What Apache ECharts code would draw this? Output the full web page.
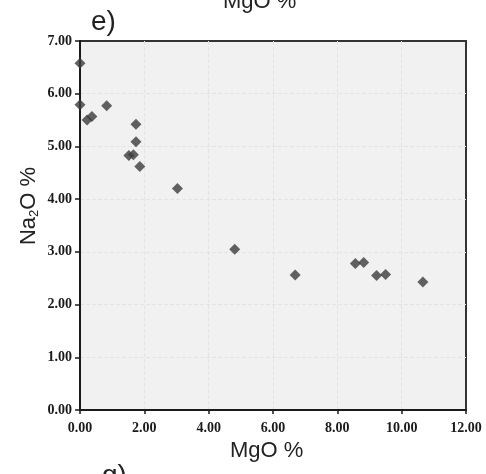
<!DOCTYPE html>
<html>
<head>
<meta charset="utf-8">
<script src="https://cdn.jsdelivr.net/npm/echarts@6/dist/echarts.min.js"></script>
<style>
  html, body { margin: 0; padding: 0; background: #fff; }
  #chart { width: 486px; height: 474px; }
</style>
</head>
<body>
<div id="chart"></div>
<script>
// MgO % vs Na2O % (panel e)
const mgo = [0.00, 0.00, 0.22, 0.37, 0.83, 1.74, 1.74, 1.52, 1.66, 1.86, 3.03, 4.81, 6.69, 8.56, 8.82, 9.22, 9.50, 10.66];
const na2o = [6.58, 5.79, 5.50, 5.57, 5.77, 5.42, 5.09, 4.83, 4.84, 4.62, 4.20, 3.05, 2.56, 2.78, 2.80, 2.55, 2.57, 2.43];

const xTicks = [0, 2, 4, 6, 8, 10, 12];
const yTicks = [0, 1, 2, 3, 4, 5, 6, 7];

const points = mgo.map((x, i) => [x, na2o[i]]);

const chart = echarts.init(document.getElementById("chart"));

const tickFont = {
  fontFamily: "Liberation Serif",
  fontWeight: "bold",
  fontSize: 14,
  color: "#1a1a1a",
};

const gridLines = {
  show: true,
  showMinLine: false,
  showMaxLine: false,
  lineStyle: { color: "#e3e3e3", type: "dashed", width: 1 },
};

chart.setOption({
  animation: false,
  grid: {
    left: 80,
    right: 20,
    top: 41,
    bottom: 64,
    show: true,
    backgroundColor: "#f1f1f1",
    borderColor: "#333",
    borderWidth: 2,
  },
  xAxis: {
    type: "value",
    min: xTicks[0],
    max: xTicks[xTicks.length - 1],
    interval: 2,
    axisLine: { show: true, onZero: false, lineStyle: { color: "#1a1a1a", width: 2 } },
    axisTick: { show: true, length: 4, lineStyle: { color: "#1a1a1a", width: 1.5 } },
    axisLabel: { ...tickFont, margin: 11, formatter: (v) => v.toFixed(2) },
    splitLine: gridLines,
  },
  yAxis: {
    type: "value",
    min: yTicks[0],
    max: yTicks[yTicks.length - 1],
    interval: 1,
    axisLine: { show: true, onZero: false, lineStyle: { color: "#1a1a1a", width: 2 } },
    axisTick: { show: true, length: 5, lineStyle: { color: "#1a1a1a", width: 1.5 } },
    axisLabel: { ...tickFont, margin: 8, formatter: (v) => v.toFixed(2) },
    splitLine: gridLines,
  },
  series: [
    {
      type: "scatter",
      data: points,
      symbol: "diamond",
      symbolSize: 11,
      itemStyle: { color: "#3c3c3c" },
    },
  ],
  graphic: [
    {
      type: "text",
      left: 223,
      top: -9,
      style: { text: "MgO %", font: "22px 'Liberation Sans'", fill: "#222" },
    },
    {
      type: "text",
      left: 91,
      top: 8,
      style: { text: "e)", font: "28px 'Liberation Sans'", fill: "#222" },
    },
    {
      type: "text",
      left: 230,
      top: 440,
      style: { text: "MgO %", font: "22px 'Liberation Sans'", fill: "#222" },
    },
    {
      type: "text",
      left: 102,
      top: 462,
      style: { text: "g)", font: "28px 'Liberation Sans'", fill: "#222" },
    },
    {
      type: "text",
      x: 29,
      y: 206,
      rotation: Math.PI / 2,
      style: {
        text: "{a|Na}{s|2}{a|O %}",
        align: "center",
        verticalAlign: "middle",
        rich: {
          a: { fontFamily: "Liberation Sans", fontSize: 22, fill: "#222", color: "#222" },
          s: { fontFamily: "Liberation Sans", fontSize: 13, fill: "#222", color: "#222", verticalAlign: "bottom", padding: [10, 0, 0, 0] },
        },
      },
    },
  ],
});
</script>
</body>
</html>
